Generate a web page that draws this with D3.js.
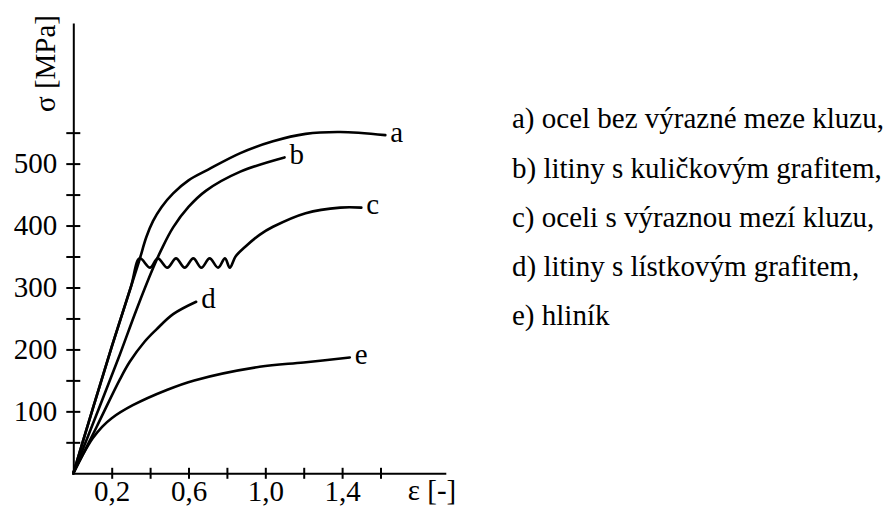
<!DOCTYPE html>
<html>
<head>
<meta charset="utf-8">
<script src="https://cdn.jsdelivr.net/npm/d3@7"></script>
<style>
  html, body { margin: 0; padding: 0; background: #fff; }
  svg text { font-family: "Liberation Serif", "Tinos", "Times New Roman", "DejaVu Serif", serif; }
</style>
</head>
<body>
<svg id="chart" width="888" height="506"></svg>
<script>
// Stress–strain curves, points given as [strain ε, stress σ in MPa]
const curveA = [[0,0],[0.1,103],[0.2,204],[0.3,301],[0.346,346],[0.38,381],[0.415,407],[0.46,430],[0.52,452],[0.6,473],[0.7,490],[0.87,517],[1.04,536],[1.21,548],[1.39,551],[1.625,546]];
const curveB = [[0,0],[0.12,94],[0.233,184],[0.33,265],[0.415,331],[0.46,362],[0.52,397],[0.6,430],[0.69,456],[0.87,487],[1.1,510]];
const curveC = [[0,0],[0.1,103],[0.2,204],[0.3,301],[0.346,347],[0.40,332],[0.44,347],[0.49,332],[0.535,347],[0.58,332],[0.625,347],[0.667,332],[0.71,347],[0.754,332],[0.79,347],[0.815,332],[0.845,350],[0.9,367],[0.97,385],[1.04,398],[1.21,420],[1.39,429],[1.5,429]];
const curveD = [[0,0],[0.12,74],[0.24,150],[0.294,180],[0.37,212],[0.432,232],[0.52,257],[0.64,277]];
const curveE = [[0,0],[0.05,30],[0.1,56],[0.15,75],[0.2,89],[0.31,110],[0.49,135],[0.63,150],[0.97,172],[1.2,179],[1.44,187]];

const curveNames = ["a", "b", "c", "d", "e"];
const legendItems = [
  "a) ocel bez výrazné meze kluzu,",
  "b) litiny s kuličkovým grafitem,",
  "c) oceli s výraznou mezí kluzu,",
  "d) litiny s lístkovým grafitem,",
  "e) hliník"
];

const xTicks = [0.2, 0.4, 0.6, 0.8, 1.0, 1.2, 1.4, 1.6];
const xTickLabels = ["0,2", "", "0,6", "", "1,0", "", "1,4", ""];
const yTicks = [50, 100, 150, 200, 250, 300, 350, 400, 450, 500, 550];
const yTickLabels = ["", "100", "", "200", "", "300", "", "400", "", "500", ""];

const xTitle = "ε [-]";
const yTitle = "σ [MPa]";

const svg = d3.select("#chart");

const x = d3.scaleLinear().domain([0, 1.94]).range([73.3, 445.8]);
const y = d3.scaleLinear().domain([0, 727]).range([473.3, 23]);

// y axis with ticks crossing the axis line
const yAxis = d3.axisLeft(y)
  .tickValues(yTicks)
  .tickFormat((d, i) => yTickLabels[i])
  .tickSizeInner(7).tickSizeOuter(0).tickPadding(9);
const gy = svg.append("g").attr("transform", `translate(${x(0)},0)`).call(yAxis);
gy.attr("font-family", null).attr("font-size", 29);
gy.selectAll(".tick line").attr("x1", 7);
gy.selectAll("path, line").attr("stroke", "#000").attr("stroke-width", 2);
gy.selectAll("text").attr("fill", "#000");

// x axis
const xAxis = d3.axisBottom(x)
  .tickValues(xTicks)
  .tickFormat((d, i) => xTickLabels[i])
  .tickSizeInner(5.5).tickSizeOuter(0).tickPadding(1.5);
const gx = svg.append("g").attr("transform", `translate(0,${y(0)})`).call(xAxis);
gx.attr("font-family", null).attr("font-size", 29);
gx.selectAll(".tick line").attr("y1", -5.5);
gx.selectAll("path, line").attr("stroke", "#000").attr("stroke-width", 2);
gx.selectAll("text").attr("fill", "#000");

// axis titles
svg.append("text")
  .attr("x", x.range()[1] - 38).attr("y", 500)
  .attr("font-size", 29).attr("fill", "#000")
  .text(xTitle);

svg.append("text")
  .attr("transform", `translate(55,${(15 + 112) / 2}) rotate(-90)`)
  .attr("text-anchor", "middle")
  .attr("font-size", 29).attr("fill", "#000")
  .text(yTitle);

// curves
const line = d3.line().x(d => x(d[0])).y(d => y(d[1])).curve(d3.curveCatmullRom.alpha(0.5));
const allCurves = [curveA, curveB, curveC, curveD, curveE];

svg.append("g").selectAll("path")
  .data(allCurves)
  .join("path")
  .attr("d", line)
  .attr("fill", "none")
  .attr("stroke", "#000")
  .attr("stroke-width", 2.6)
  .attr("stroke-linejoin", "round")
  .attr("stroke-linecap", "round");

// curve end labels
svg.append("g").selectAll("text")
  .data(allCurves)
  .join("text")
  .attr("x", d => x(d[d.length - 1][0]) + 5)
  .attr("y", d => y(d[d.length - 1][1]) + 6.5)
  .attr("font-size", 29).attr("fill", "#000")
  .text((d, i) => curveNames[i]);

// legend
svg.append("g").selectAll("text")
  .data(legendItems)
  .join("text")
  .attr("x", 512)
  .attr("y", (d, i) => 128.3 + i * 49.2)
  .attr("font-size", 29).attr("fill", "#000")
  .text(d => d);
</script>
</body>
</html>
